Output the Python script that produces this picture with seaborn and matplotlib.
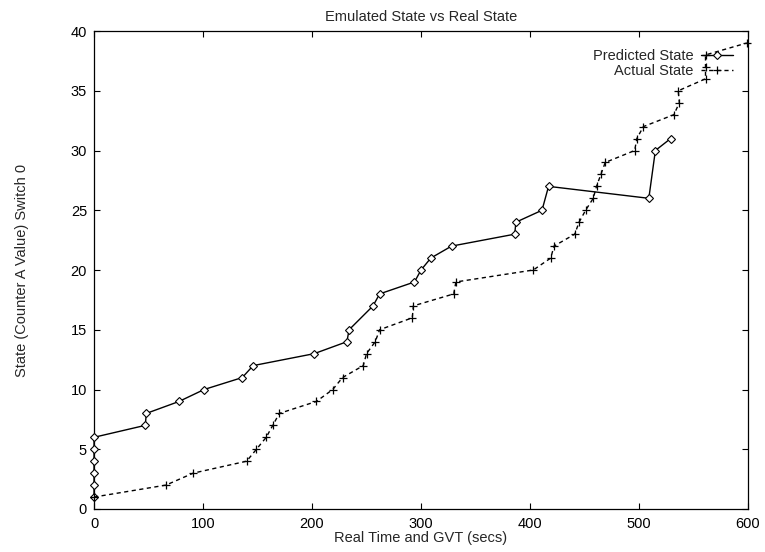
import numpy as np
import pandas as pd
import seaborn as sns
import matplotlib
matplotlib.use("Agg")
import matplotlib.pyplot as plt

# data
pred_time = [0, 0, 0, 0, 0, 0, 47, 48, 78, 101, 136, 146, 202, 232, 234,
             256, 262, 294, 300, 309, 328, 386, 387, 411, 417, 509, 515, 529]
pred_state = [1, 2, 3, 4, 5, 6, 7, 8, 9, 10, 11, 12, 13, 14, 15,
              17, 18, 19, 20, 21, 22, 23, 24, 25, 27, 26, 30, 31]

act_time = [0, 66, 91, 140, 149, 158, 164, 170, 204, 219, 228, 247, 250, 258,
            262, 292, 293, 330, 332, 403, 419, 422, 441, 445, 451, 458, 461,
            465, 469, 496, 498, 504, 532, 537, 536, 561, 561, 561, 599]
act_state = [1, 2, 3, 4, 5, 6, 7, 8, 9, 10, 11, 12, 13, 14,
             15, 16, 17, 18, 19, 20, 21, 22, 23, 24, 25, 26, 27,
             28, 29, 30, 31, 32, 33, 34, 35, 36, 37, 38, 39]

pred_df = pd.DataFrame({"time": pred_time, "state": pred_state})
act_df = pd.DataFrame({"time": act_time, "state": act_state})

sns.set_style("ticks")
plt.rcParams['font.family'] = ['Liberation Sans', 'DejaVu Sans']
fs = 10.5

fig = plt.figure(figsize=(7.65, 5.52), dpi=100)
ax = fig.add_axes([0.1229, 0.0779, 0.8549, 0.8659])

sns.lineplot(data=pred_df, x="time", y="state", sort=False, estimator=None,
             color="black", lw=1.0, marker="D", markersize=4.5,
             markerfacecolor="white", markeredgecolor="black",
             markeredgewidth=0.8, label="Predicted State", ax=ax,
             clip_on=False, zorder=3)
sns.lineplot(data=act_df, x="time", y="state", sort=False, estimator=None,
             color="black", lw=1.0, linestyle=(0, (3, 2.5)), marker="+",
             markersize=6, markeredgewidth=0.9, markeredgecolor="black",
             label="Actual State", ax=ax, clip_on=False, zorder=3)

ax.set_xlim(0, 600)
ax.set_ylim(0, 40)
ax.set_xticks(np.arange(0, 601, 100))
ax.set_yticks(np.arange(0, 41, 5))
ax.tick_params(direction="in", length=4.5, width=0.8, top=True, right=True,
               labelsize=fs, colors="black")
ax.tick_params(axis="x", pad=6)
ax.tick_params(axis="y", pad=5)
for sp in ax.spines.values():
    sp.set_visible(True)
    sp.set_linewidth(0.9)
    sp.set_color("black")

ax.set_title("Emulated State vs Real State", fontsize=fs, pad=7)
ax.set_xlabel("Real Time and GVT (secs)", fontsize=fs, labelpad=0)
ax.set_ylabel("State (Counter A Value) Switch 0", fontsize=fs, labelpad=30)

leg = ax.legend(loc="upper right", bbox_to_anchor=(0.99, 0.98),
                frameon=False, markerfirst=False, handlelength=2.2,
                handletextpad=0.5, labelspacing=0.05, borderaxespad=0.2,
                fontsize=fs)

fig.savefig("out.png", dpi=100)
